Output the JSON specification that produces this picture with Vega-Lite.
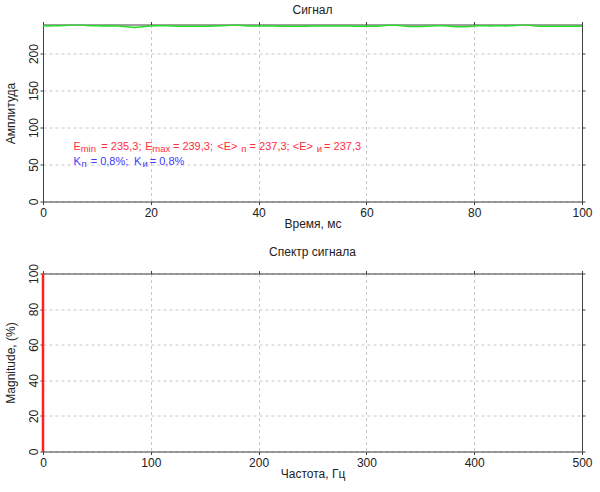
{
  "$schema": "https://vega.github.io/schema/vega-lite/v6.json",
  "padding": {"left": 4, "top": 3.5, "right": 8, "bottom": 8},
  "background": "white",
  "spacing": 16,
  "datasets": {
    "signal": [
      {"t":0,"amp":237.6},{"t":1,"amp":237.4},{"t":2,"amp":237.5},{"t":3,"amp":237.6},{"t":4,"amp":237.8},
      {"t":5,"amp":238.5},{"t":6,"amp":239.1},{"t":7,"amp":238.8},{"t":8,"amp":238.0},{"t":9,"amp":237.6},
      {"t":10,"amp":237.5},{"t":11,"amp":237.4},{"t":12,"amp":237.5},{"t":13,"amp":237.4},{"t":14,"amp":237.2},
      {"t":15,"amp":236.6},{"t":16,"amp":236.0},{"t":17,"amp":235.3},{"t":18,"amp":235.9},{"t":19,"amp":236.6},
      {"t":20,"amp":237.2},{"t":21,"amp":237.5},{"t":22,"amp":237.6},{"t":23,"amp":237.5},{"t":24,"amp":237.3},
      {"t":25,"amp":237.0},{"t":26,"amp":236.9},{"t":27,"amp":237.0},{"t":28,"amp":237.1},{"t":29,"amp":236.9},
      {"t":30,"amp":236.8},{"t":31,"amp":237.0},{"t":32,"amp":237.3},{"t":33,"amp":237.6},{"t":34,"amp":238.0},
      {"t":35,"amp":238.6},{"t":36,"amp":238.9},{"t":37,"amp":238.0},{"t":38,"amp":237.4},{"t":39,"amp":237.3},
      {"t":40,"amp":237.2},{"t":41,"amp":237.3},{"t":42,"amp":237.4},{"t":43,"amp":237.2},{"t":44,"amp":237.0},
      {"t":45,"amp":236.9},{"t":46,"amp":236.8},{"t":47,"amp":236.9},{"t":48,"amp":237.0},{"t":49,"amp":237.1},
      {"t":50,"amp":237.2},{"t":51,"amp":237.3},{"t":52,"amp":237.4},{"t":53,"amp":237.3},{"t":54,"amp":237.2},
      {"t":55,"amp":237.3},{"t":56,"amp":237.4},{"t":57,"amp":237.2},{"t":58,"amp":237.0},{"t":59,"amp":236.9},
      {"t":60,"amp":236.8},{"t":61,"amp":236.9},{"t":62,"amp":237.1},{"t":63,"amp":237.5},{"t":64,"amp":238.2},
      {"t":65,"amp":238.5},{"t":66,"amp":238.0},{"t":67,"amp":237.2},{"t":68,"amp":236.7},{"t":69,"amp":236.5},
      {"t":70,"amp":236.6},{"t":71,"amp":236.9},{"t":72,"amp":237.4},{"t":73,"amp":237.6},{"t":74,"amp":237.5},
      {"t":75,"amp":237.2},{"t":76,"amp":236.6},{"t":77,"amp":236.1},{"t":78,"amp":236.2},{"t":79,"amp":236.7},
      {"t":80,"amp":237.3},{"t":81,"amp":237.6},{"t":82,"amp":237.5},{"t":83,"amp":237.4},{"t":84,"amp":237.5},
      {"t":85,"amp":237.6},{"t":86,"amp":237.4},{"t":87,"amp":237.6},{"t":88,"amp":238.3},{"t":89,"amp":239.3},
      {"t":90,"amp":238.6},{"t":91,"amp":237.6},{"t":92,"amp":237.1},{"t":93,"amp":236.9},{"t":94,"amp":237.0},
      {"t":95,"amp":237.1},{"t":96,"amp":236.9},{"t":97,"amp":236.8},{"t":98,"amp":237.0},{"t":99,"amp":237.1},
      {"t":100,"amp":236.9}
    ],
    "ann": [
      {"t":5.64,"amp":69.5,"txt":"E","grp":"E","sub":false},
      {"t":6.99,"amp":69.5,"txt":"min","grp":"E","sub":true},
      {"t":10.83,"amp":69.5,"txt":"= 235,3;","grp":"E","sub":false},
      {"t":18.98,"amp":69.5,"txt":"E","grp":"E","sub":false},
      {"t":20.28,"amp":69.5,"txt":"max","grp":"E","sub":true},
      {"t":24.10,"amp":69.5,"txt":"= 239,3;","grp":"E","sub":false},
      {"t":32.33,"amp":69.5,"txt":"<E>","grp":"E","sub":false},
      {"t":36.78,"amp":69.5,"txt":"п","grp":"E","sub":true},
      {"t":38.32,"amp":69.5,"txt":"= 237,3;","grp":"E","sub":false},
      {"t":46.35,"amp":69.5,"txt":"<E>","grp":"E","sub":false},
      {"t":50.80,"amp":69.5,"txt":"и","grp":"E","sub":true},
      {"t":52.15,"amp":69.5,"txt":"= 237,3","grp":"E","sub":false},
      {"t":5.64,"amp":49.5,"txt":"K","grp":"K","sub":false},
      {"t":7.12,"amp":49.5,"txt":"п","grp":"K","sub":true},
      {"t":8.84,"amp":49.5,"txt":"= 0,8%;","grp":"K","sub":false},
      {"t":16.9,"amp":49.5,"txt":"K","grp":"K","sub":false},
      {"t":18.45,"amp":49.5,"txt":"и","grp":"K","sub":true},
      {"t":19.8,"amp":49.5,"txt":"= 0,8%","grp":"K","sub":false}
    ],
    "spectrum": [
      {"f":0,"mag":100}
    ]
  },
  "vconcat": [
    {
      "width": 539,
      "height": 177,
      "title": {"text": "Сигнал"},
      "layer": [
        {
          "data": {"name": "signal"},
          "mark": {"type": "line", "color": "#22e022", "strokeWidth": 1.5, "clip": true},
          "encoding": {
            "x": {"field": "t", "type": "quantitative",
                  "scale": {"domain": [0, 100], "nice": false},
                  "axis": {"orient": "bottom", "values": [0,20,40,60,80,100], "title": "Время, мс", "grid": true}},
            "y": {"field": "amp", "type": "quantitative",
                  "scale": {"domain": [0, 239.3], "nice": false, "zero": false},
                  "axis": {"orient": "left", "values": [0,50,100,150,200], "title": "Амплитуда", "grid": true,
                           "labelAngle": -90, "labelAlign": "center", "labelBaseline": "alphabetic"}}
          }
        },
        {
          "data": {"name": "ann"},
          "transform": [{"filter": "!datum.sub"}],
          "mark": {"type": "text", "align": "left", "baseline": "alphabetic", "fontSize": 11, "font": "Liberation Sans"},
          "encoding": {
            "x": {"field": "t", "type": "quantitative",
                  "axis": {"orient": "top", "values": [0,20,40,60,80,100], "labels": false, "title": null, "grid": false}},
            "y": {"field": "amp", "type": "quantitative",
                  "axis": {"orient": "right", "values": [0,50,100,150,200], "labels": false, "title": null, "grid": false}},
            "text": {"field": "txt"},
            "color": {"field": "grp", "type": "nominal", "scale": {"domain": ["E","K"], "range": ["#ff2d3c","#3c3cff"]}, "legend": null}
          }
        },
        {
          "data": {"name": "ann"},
          "transform": [{"filter": "datum.sub"}],
          "mark": {"type": "text", "align": "left", "baseline": "alphabetic", "fontSize": 9.5, "dy": 2, "font": "Liberation Sans"},
          "encoding": {
            "x": {"field": "t", "type": "quantitative", "axis": null},
            "y": {"field": "amp", "type": "quantitative", "axis": null},
            "text": {"field": "txt"},
            "color": {"field": "grp", "type": "nominal", "scale": {"domain": ["E","K"], "range": ["#ff2d3c","#3c3cff"]}, "legend": null}
          }
        }
      ]
    },
    {
      "width": 539,
      "height": 178,
      "title": {"text": "Спектр сигнала"},
      "data": {"name": "spectrum"},
      "layer": [
        {
          "mark": {"type": "rule", "color": "#ff2020", "strokeWidth": 2.5},
          "encoding": {
            "x": {"field": "f", "type": "quantitative",
                  "scale": {"domain": [0, 500], "nice": false},
                  "axis": {"orient": "bottom", "values": [0,100,200,300,400,500], "title": "Частота, Гц", "grid": true}},
            "y": {"field": "mag", "type": "quantitative",
                  "scale": {"domain": [0, 100], "nice": false},
                  "axis": {"orient": "left", "values": [0,20,40,60,80,100], "title": "Magnitude, (%)", "grid": true,
                           "labelAngle": -90, "labelAlign": "center", "labelBaseline": "alphabetic"}},
            "y2": {"datum": 0}
          }
        },
        {
          "mark": {"type": "point", "opacity": 0},
          "encoding": {
            "x": {"field": "f", "type": "quantitative",
                  "axis": {"orient": "top", "values": [0,100,200,300,400,500], "labels": false, "title": null, "grid": false}},
            "y": {"field": "mag", "type": "quantitative",
                  "axis": {"orient": "right", "values": [0,20,40,60,80,100], "labels": false, "title": null, "grid": false}}
          }
        }
      ]
    }
  ],
  "config": {
    "font": "Liberation Sans",
    "view": {"stroke": null},
    "axis": {
      "domainColor": "#404040",
      "domainWidth": 1,
      "tickColor": "#404040",
      "tickSize": 3,
      "labelFont": "Liberation Sans",
      "labelFontSize": 12,
      "labelColor": "#222222",
      "labelPadding": 3,
      "labelFlush": false,
      "labelOverlap": false,
      "titleFont": "Liberation Sans",
      "titleFontSize": 12,
      "titleFontWeight": "normal",
      "titleColor": "#222222",
      "titlePadding": 0,
      "gridColor": "#c8c8c8",
      "gridDash": [3, 3]
    },
    "axisLeft": {"titlePadding": 10},
    "title": {"font": "Liberation Sans", "fontSize": 12, "fontWeight": "normal", "color": "#222222", "offset": 4}
  }
}
